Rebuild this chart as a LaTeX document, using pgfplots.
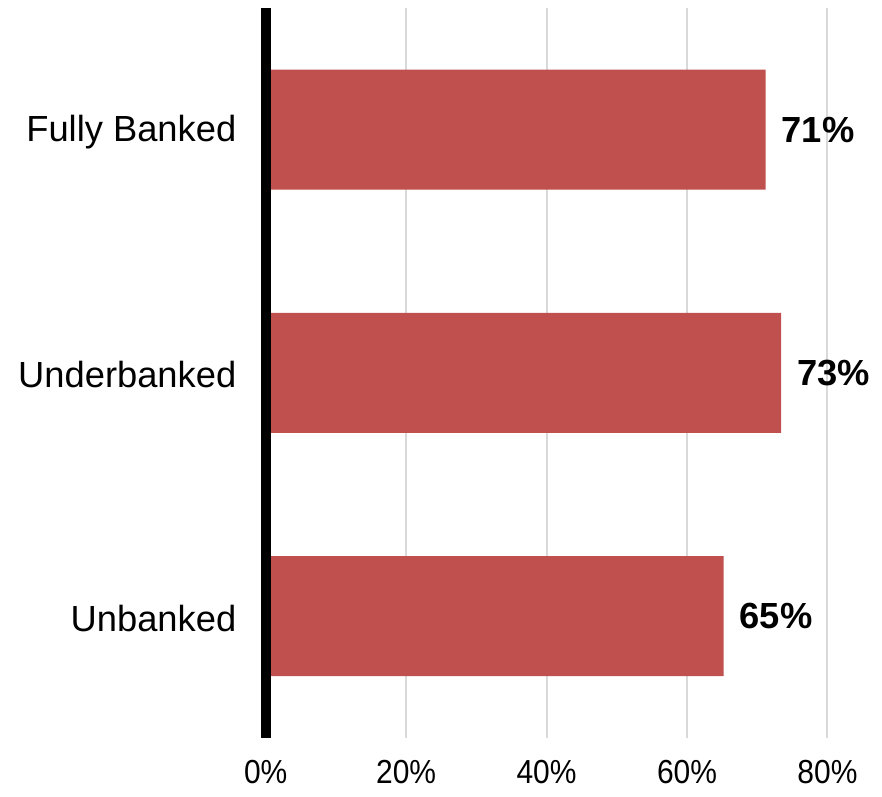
\documentclass[border=0pt]{standalone}
\usepackage{pgfplots}
\pgfplotsset{compat=1.18}
\usepackage{fontspec}
\setmainfont{Liberation Sans}
\definecolor{barred}{HTML}{C0504D}
\definecolor{gridgray}{HTML}{D9D9D9}

\begin{document}
\fontsize{10.9pt}{13pt}\selectfont
\begin{tikzpicture}
\begin{axis}[
    xbar,
    bar width=36pt,
    scale only axis,
    width=168.6pt,
    height=219pt,
    xmin=0, xmax=80,
    ymin=-0.5, ymax=2.5,
    ytick={0,1,2},
    yticklabels={Unbanked,Underbanked,Fully Banked},
    xtick={0,20,40,60,80},
    /pgf/number format/assume math mode=true,
    xticklabel={\scalebox{0.9}[1]{\pgfmathprintnumber{\tick}\%}},
    xticklabel style={yshift=-3pt, font=\fontsize{10pt}{12pt}\selectfont},
    yticklabel style={xshift=-5pt, yshift=-0.6pt},
    major tick length=0pt,
    axis x line*=bottom,
    axis y line*=left,
    x axis line style={draw=none},
    y axis line style={draw=none},
    xmajorgrids,
    grid style={gridgray, line width=0.6pt},
    point meta=explicit,
    nodes near coords={\textbf{\pgfmathprintnumber{\pgfplotspointmeta}\%}},
    nodes near coords align=horizontal,
    every node near coord/.append style={xshift=1pt, font=\bfseries},
    clip=false,
]
\addplot[fill=barred, draw=none] coordinates {(65.2,0) [65] (73.4,1) [73] (71.2,2) [71]};
\draw[line width=3pt, black] (axis cs:0,-0.5) -- (axis cs:0,2.5);
\coordinate (bl) at (rel axis cs:-0.473,-0.0685);
\coordinate (tr) at (rel axis cs:1.096,1.011);
\end{axis}
\path (bl) rectangle (tr);
\end{tikzpicture}
\end{document}
